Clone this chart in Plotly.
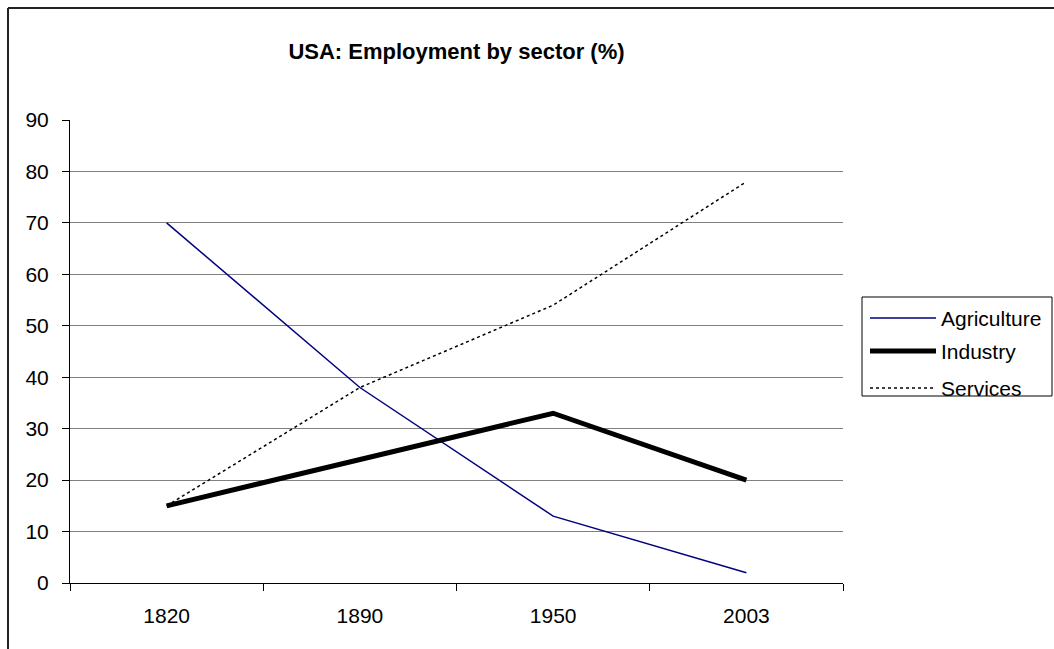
import plotly.graph_objects as go

years = ["1820", "1890", "1950", "2003"]
agriculture = [70, 38, 13, 2]
industry = [15, 24, 33, 20]
services = [15, 38, 54, 78]
series_names = ["Agriculture", "Industry", "Services"]

W, H = 1054, 649
ML, MR, MT, MB = 70, 211, 120, 66
PW = W - ML - MR
PH = H - MT - MB

def px_x(p):
    return (p - ML) / PW

def px_y(p):
    return (H - MB - p) / PH

FONT = "Liberation Sans, Arial, sans-serif"

styles = [
    dict(color="#000080", width=1.5),
    dict(color="#000000", width=5),
    dict(color="#000000", width=1.5, dash="dot"),
]

fig = go.Figure()
for name, vals, st in zip(series_names, [agriculture, industry, services], styles):
    fig.add_trace(go.Scatter(x=years, y=vals, mode="lines", name=name,
                             line=st, showlegend=False))

# legend drawn manually to match the long sample lines of the original
shapes = [
    dict(type="line", xref="paper", yref="paper",
         x0=px_x(8), x1=px_x(1100), y0=px_y(8), y1=px_y(8),
         line=dict(color="#222222", width=2)),
    dict(type="line", xref="paper", yref="paper",
         x0=px_x(8), x1=px_x(8), y0=px_y(8), y1=px_y(700),
         line=dict(color="#222222", width=2)),
    dict(type="rect", xref="paper", yref="paper",
         x0=px_x(862), x1=px_x(1052), y0=px_y(297), y1=px_y(396),
         line=dict(color="#000000", width=1), fillcolor="white", layer="above"),
]
annotations = []
leg_y = [318, 351, 388]
for name, st, ly in zip(series_names, styles, leg_y):
    shapes.append(dict(type="line", xref="paper", yref="paper",
                       x0=px_x(870), x1=px_x(936), y0=px_y(ly), y1=px_y(ly),
                       line=st, layer="above"))
    annotations.append(dict(text=name, xref="paper", yref="paper",
                            x=px_x(939), y=px_y(ly), xanchor="left", yanchor="middle",
                            showarrow=False, font=dict(family=FONT, size=21, color="#000000")))

fig.update_layout(
    width=W, height=H,
    margin=dict(l=ML, r=MR, t=MT, b=MB, autoexpand=False),
    paper_bgcolor="white", plot_bgcolor="white",
    font=dict(family=FONT, size=21, color="#000000"),
    title=dict(text="<b>USA: Employment by sector (%)</b>", x=0.5, xref="paper",
               xanchor="center", y=1 - 51 / H, yanchor="middle",
               font=dict(family=FONT, size=22, color="#000000")),
    showlegend=False,
    xaxis=dict(type="category", range=[-0.5, 3.5], showgrid=False,
               showline=True, linecolor="#000000", linewidth=1,
               ticks="outside", tickson="boundaries", ticklen=7,
               tickcolor="#000000", tickfont=dict(size=21), zeroline=False,
               ticklabelstandoff=14),
    yaxis=dict(range=[0, 90], dtick=10, tick0=0, showgrid=True,
               gridcolor="#808080", gridwidth=1,
               showline=True, linecolor="#000000", linewidth=1,
               ticks="outside", ticklen=7, tickcolor="#000000",
               tickfont=dict(size=21), zeroline=False, ticklabelstandoff=9),
    shapes=shapes,
    annotations=annotations,
)

fig.write_html("out.html")
